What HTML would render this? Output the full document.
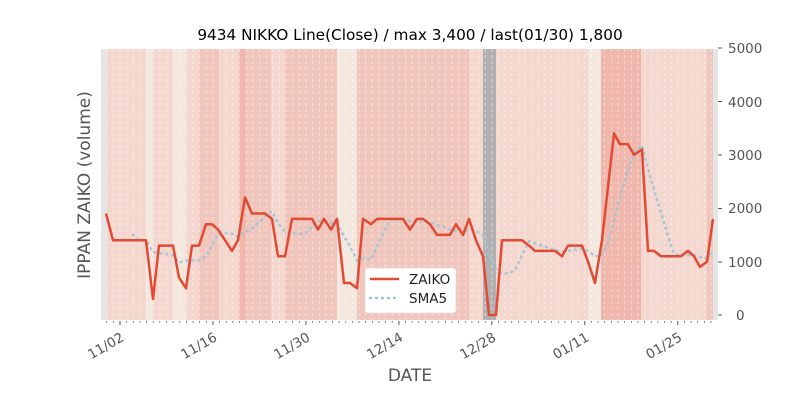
<!DOCTYPE html>
<html><head><meta charset="utf-8"><style>
html,body{margin:0;padding:0;background:#fff;}
svg{display:block;font-family:"DejaVu Sans","Liberation Sans",sans-serif;}
</style></head><body>
<svg id="s" width="800" height="400" viewBox="0 0 800 400" xmlns="http://www.w3.org/2000/svg">
<rect x="101" y="49" width="617" height="271" fill="#e5e5e5"/>
<g id="bands"></g>
<g id="grid"></g>
<g id="ticks"></g>
<polyline id="sma" fill="none" stroke="#9ac4d9" stroke-width="2.5" stroke-dasharray="1,5" stroke-linecap="round" opacity="0.9"/>
<polyline id="zk" fill="none" stroke="#e24a33" stroke-width="2.5" stroke-linejoin="round"/>
<text x="410" y="40" font-size="15.3" text-anchor="middle" fill="#000">9434 NIKKO Line(Close) / max 3,400 / last(01/30) 1,800</text>
<g font-size="13.5" fill="#555">
<text x="728" y="53">5000</text>
<text x="728" y="107">4000</text>
<text x="728" y="160">3000</text>
<text x="728" y="213">2000</text>
<text x="728" y="267">1000</text>
<text x="736" y="320">0</text>
</g>
<g stroke="#555" stroke-width="1">
<line x1="718" y1="48" x2="722" y2="48"/><line x1="718" y1="101.5" x2="722" y2="101.5"/>
<line x1="718" y1="155" x2="722" y2="155"/><line x1="718" y1="208.5" x2="722" y2="208.5"/>
<line x1="718" y1="262" x2="722" y2="262"/><line x1="718" y1="315" x2="722" y2="315"/>
</g>
<g font-size="13.5" fill="#555" text-anchor="end">
<text transform="translate(125,340) rotate(-30)">11/02</text>
<text transform="translate(218,340) rotate(-30)">11/16</text>
<text transform="translate(311,340) rotate(-30)">11/30</text>
<text transform="translate(404,340) rotate(-30)">12/14</text>
<text transform="translate(497,340) rotate(-30)">12/28</text>
<text transform="translate(590,340) rotate(-30)">01/11</text>
<text transform="translate(683,340) rotate(-30)">01/25</text>
</g>
<text x="410" y="381" font-size="17" fill="#555" text-anchor="middle">DATE</text>
<text transform="translate(90,185) rotate(-90)" font-size="17" fill="#555" text-anchor="middle">IPPAN ZAIKO (volume)</text>
<rect x="365" y="268" width="91" height="45" rx="3" fill="#fff" stroke="#ddd" stroke-width="0.8"/>
<line x1="370" y1="279" x2="399" y2="279" stroke="#e24a33" stroke-width="2.5"/>
<line x1="370" y1="298" x2="399" y2="298" stroke="#9ac4d9" stroke-width="2.5" stroke-dasharray="1,5" stroke-linecap="round"/>
<text x="409" y="284" font-size="13.5" fill="#222">ZAIKO</text>
<text x="409" y="303" font-size="13.5" fill="#222">SMA5</text>
</svg>
<script>
var NS="http://www.w3.org/2000/svg";
function el(p,t,a){var e=document.createElementNS(NS,t);for(var k in a)e.setAttribute(k,a[k]);p.appendChild(e);return e;}
var L="#f4d7cf",B="#f3e7de",M="#f0c6bc",D="#f0b7ac",G="#b0b0b0";
var bands=[[107,146,L],[146,153,B],[153,173,L],[173,186,B],[186,199,L],[199,219,M],[219,239,L],[239,246,D],[246,271,M],[271,285,L],[285,337,M],[337,357,B],[357,469,M],[469,483,L],[483,496,G],[496,588,L],[588,601,B],[601,641,D],[641,707,L],[707,713,M]];
var bg=document.getElementById("bands");
bands.forEach(function(b){el(bg,"rect",{x:b[0],y:49,width:b[1]-b[0],height:271,fill:b[2]});});
var gg=document.getElementById("grid"),tg=document.getElementById("ticks");
for(var k=-2;k<=90;k++){var x=120+6.64*k;if(x<102||x>716)continue;
el(gg,"line",{x1:x,y1:49,x2:x,y2:320,stroke:"#fff","stroke-width":0.8,"stroke-dasharray":"3,3",opacity:0.6});
var major=(k%14==0);
el(tg,"line",{x1:x,y1:321,x2:x,y2:major?325:323,stroke:"#555","stroke-width":major?1:0.7});}
var pts=[[106,1900],[113,1400],[120,1400],[126,1400],[133,1400],[140,1400],[146,1400],[153,300],[159,1300],[166,1300],[173,1300],[179,700],[186,500],[192,1300],[199,1300],[206,1700],[212,1700],[218,1600],[225,1400],[232,1200],[238,1400],[245,2200],[252,1900],[258,1900],[265,1900],[272,1800],[278,1100],[285,1100],[292,1800],[298,1800],[305,1800],[312,1800],[318,1600],[324,1800],[331,1600],[337,1800],[344,600],[350,600],[357,500],[363,1800],[371,1700],[377,1800],[383,1800],[390,1800],[397,1800],[403,1800],[410,1600],[417,1800],[423,1800],[430,1700],[437,1500],[443,1500],[450,1500],[456,1700],[463,1500],[469,1800],[476,1400],[483,1100],[489,0],[496,0],[502,1400],[509,1400],[515,1400],[522,1400],[529,1300],[535,1200],[542,1200],[548,1200],[555,1200],[562,1100],[568,1300],[575,1300],[582,1300],[588,1000],[595,600],[602,1400],[608,2400],[614,3400],[620,3200],[628,3200],[634,3000],[642,3100],[648,1200],[654,1200],[661,1100],[667,1100],[674,1100],[681,1100],[688,1200],[694,1100],[700,900],[707,1000],[713,1800]];
function Y(v){return 315-v*0.0534;}
document.getElementById("zk").setAttribute("points",pts.map(function(p){return p[0]+","+Y(p[1]).toFixed(1);}).join(" "));
var s=[];for(var i=4;i<pts.length;i++){var a=0;for(var j=i-4;j<=i;j++)a+=pts[j][1];s.push(pts[i][0]+","+Y(a/5).toFixed(1));}
document.getElementById("sma").setAttribute("points",s.join(" "));
</script>
</body></html>
